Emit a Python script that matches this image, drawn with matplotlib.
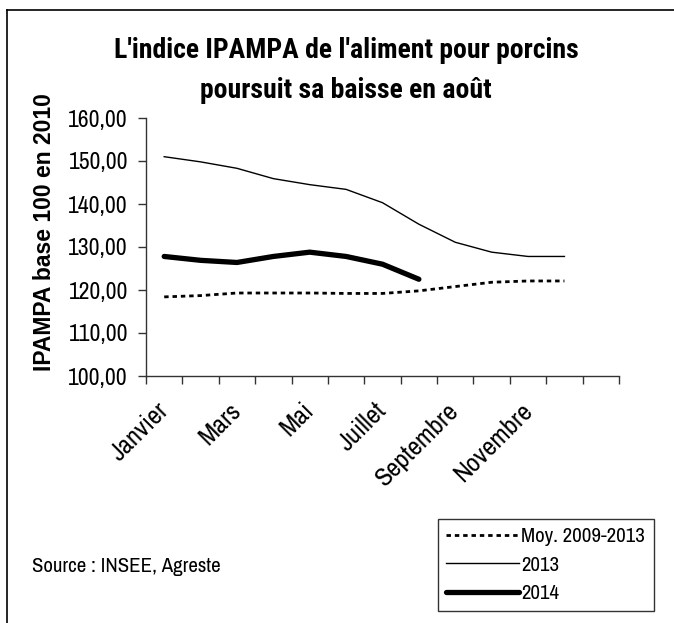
import matplotlib
matplotlib.use("Agg")
import matplotlib.pyplot as plt
from matplotlib.lines import Line2D
from matplotlib.ticker import FuncFormatter, FixedLocator

months = ["Janvier", "Février", "Mars", "Avril", "Mai", "Juin", "Juillet",
          "Août", "Septembre", "Octobre", "Novembre", "Décembre", ""]
moy_2009_2013 = [118.4, 118.7, 119.3, 119.3, 119.3, 119.2, 119.2, 119.8, 120.8, 121.8, 122.1, 122.1]
y2013 = [151.0, 149.8, 148.3, 145.9, 144.5, 143.4, 140.3, 135.3, 131.1, 128.8, 127.8, 127.8]
y2014 = [127.8, 126.9, 126.4, 127.8, 128.8, 127.8, 126.0, 122.5]
series_labels = ["Moy. 2009-2013", "2013", "2014"]
title_lines = ["L'indice IPAMPA de l'aliment pour porcins", "poursuit sa baisse en août"]
ylabel = "IPAMPA base 100 en 2010"
source = "Source : INSEE, Agreste"

NARROW = ["Archivo Narrow", "Roboto Condensed", "DejaVu Sans"]
NARROW_BOLD = ["Roboto Condensed", "Archivo Narrow", "DejaVu Sans"]
W, H = 674, 623
fig = plt.figure(figsize=(W / 100, H / 100), dpi=100)
ax = fig.add_axes([146 / W, 1 - 376 / H, (619 - 146) / W, (376 - 118) / H])

x = list(range(len(months)))
l1, = ax.plot(x[:len(moy_2009_2013)], moy_2009_2013, color="black", lw=2.0,
              linestyle=(0, (1.6, 1.4)), dash_capstyle="butt")
l2, = ax.plot(x[:len(y2013)], y2013, color="black", lw=1.0)
l3, = ax.plot(x[:len(y2014)], y2014, color="black", lw=3.8, solid_capstyle="round")

ax.set_xlim(-0.5, len(months) - 0.5)
ax.set_ylim(100, 160)
ax.set_yticks([100, 110, 120, 130, 140, 150, 160])
ax.yaxis.set_major_formatter(FuncFormatter(lambda v, p: f"{v:.2f}".replace(".", ",")))
for s in ["top", "right"]:
    ax.spines[s].set_visible(False)
for s in ["left", "bottom"]:
    ax.spines[s].set_linewidth(1.0)
    ax.spines[s].set_color("#333333")

# boundary ticks on x axis, labels every other month
ax.xaxis.set_major_locator(FixedLocator([i - 0.5 for i in range(len(months) + 1)]))
ax.set_xticklabels([])
ax.tick_params(axis="x", length=6, width=1, color="#333333")
ax.xaxis.set_minor_locator(FixedLocator(x[::2]))
ax.set_xticklabels(months[::2], minor=True, rotation=45, ha="right", va="center",
                   rotation_mode="anchor", fontsize=19, family=NARROW)
ax.tick_params(axis="x", which="minor", length=0, pad=22)
ax.tick_params(axis="y", length=6, width=1, color="#333333", pad=7)
for t in ax.get_yticklabels():
    t.set_family(NARROW)
    t.set_fontsize(17)

fig.text(346 / W, 1 - 50 / H, title_lines[0], ha="center", va="center", fontsize=20,
         fontweight="bold", family=NARROW_BOLD)
fig.text(346 / W, 1 - 90 / H, title_lines[1], ha="center", va="center", fontsize=20,
         fontweight="bold", family=NARROW_BOLD)
fig.text(45 / W, 1 - 232 / H, ylabel, rotation=90, ha="center", va="center",
         fontsize=16.5, fontweight="bold", family=["Liberation Sans", "DejaVu Sans"])
fig.text(32 / W, 1 - 567 / H, source, ha="left", va="center", fontsize=15, family=NARROW)

leg = fig.legend([l1, l2, l3], series_labels, loc="upper left",
                 bbox_to_anchor=(438 / W, 1 - 519 / H), frameon=True, fancybox=False,
                 edgecolor="black", prop={"family": NARROW, "size": 15},
                 handlelength=3.5, handletextpad=0.1, labelspacing=0.45,
                 borderpad=0.4, borderaxespad=0)
leg.get_frame().set_linewidth(1.0)

# outer frame
fig.add_artist(Line2D([7 / W, 7 / W], [0, 1 - 10 / H], transform=fig.transFigure,
                      color="black", lw=1.2))
fig.add_artist(Line2D([7 / W, 1], [1 - 10 / H, 1 - 10 / H], transform=fig.transFigure,
                      color="black", lw=1.2))

fig.savefig("out.png", dpi=100)
